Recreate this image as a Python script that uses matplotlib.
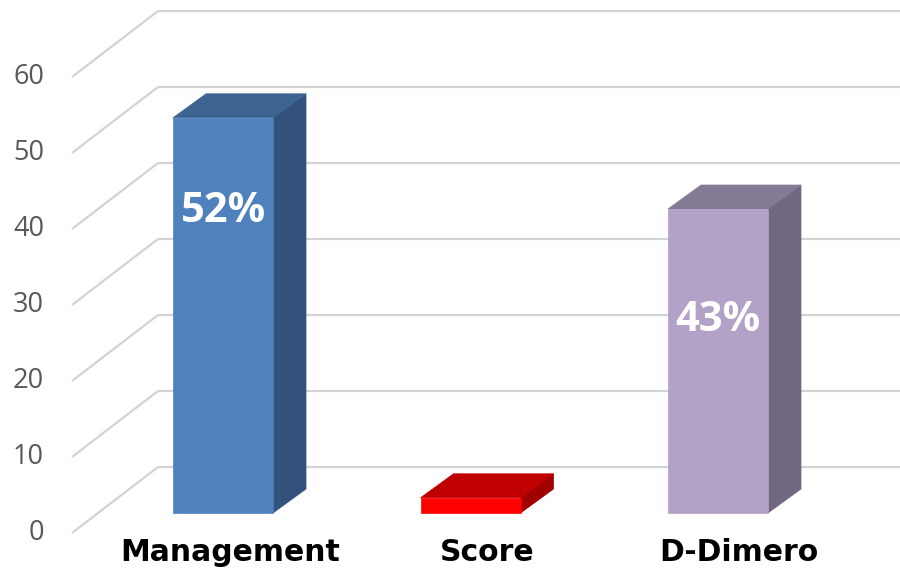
import matplotlib
matplotlib.use("Agg")
import matplotlib.pyplot as plt
from matplotlib.patches import Polygon

# ---------------- data ----------------
categories = ["Management", "Score", "D-Dimero"]
values = [52, 2, 40]
value_labels = ["52%", "", "43%"]
ticks = [0, 10, 20, 30, 40, 50, 60]

# ---------------- style / layout ----------------
front_colors = ["#4F81BD", "#FF0000", "#B3A2C7"]
top_colors = ["#3D6390", "#C00000", "#857A96"]
side_colors = ["#32527B", "#A00000", "#716782"]
label_y = [39.7, None, 25.3]          # value-label vertical positions (data units)
cat_label_dx_px = [7, 17, 21]         # category label horizontal shifts (pixels)

W, H, DPI = 900, 575, 100
PX_CAT = 247.5      # pixels per category step
PX_UNIT = 7.6       # pixels per value unit
X0_PX = 223         # pixel x of first bar's front-face centre
Y0_PX = 513         # pixel y (from top) of bar front-face base
BAR_W = 100 / PX_CAT
BAR_DX = 33 / PX_CAT          # bar depth (x)
BAR_DY = 24 / PX_UNIT         # bar depth (y)
# floor geometry relative to bar front plane
FRONT_X = (72 - X0_PX) / PX_CAT
FRONT_DY = -20 / PX_UNIT
BACK_X = (158 - X0_PX) / PX_CAT
BACK_DY = (Y0_PX - 467) / PX_UNIT

fig = plt.figure(figsize=(W / DPI, H / DPI), dpi=DPI)
ax = fig.add_axes([0, 0, 1, 1])
ax.set_xlim((0 - X0_PX) / PX_CAT, (W - X0_PX) / PX_CAT)
ax.set_ylim(-(H - Y0_PX) / PX_UNIT, Y0_PX / PX_UNIT)
ax.axis("off")

grid_c = "#D3D3D3"
xmax = ax.get_xlim()[1]
for t in ticks:
    ax.plot([FRONT_X, BACK_X], [t + FRONT_DY, t + BACK_DY], color=grid_c, lw=1.6,
            solid_capstyle="butt", zorder=1)
    ax.plot([BACK_X, xmax], [t + BACK_DY, t + BACK_DY], color=grid_c, lw=1.6,
            solid_capstyle="butt", zorder=1)
    ax.text((44 - X0_PX) / PX_CAT, t + FRONT_DY, str(t), ha="right", va="center",
            fontsize=19.5, color="#595959", family=["Open Sans", "DejaVu Sans"])

for i, (v, fc, tc, sc) in enumerate(zip(values, front_colors, top_colors, side_colors)):
    x0 = i - BAR_W / 2
    x1 = i + BAR_W / 2
    front = [(x0, 0), (x1, 0), (x1, v), (x0, v)]
    top = [(x0, v), (x1, v), (x1 + BAR_DX, v + BAR_DY), (x0 + BAR_DX, v + BAR_DY)]
    side = [(x1, 0), (x1 + BAR_DX, BAR_DY), (x1 + BAR_DX, v + BAR_DY), (x1, v)]
    ax.add_patch(Polygon(side, closed=True, facecolor=sc, edgecolor=sc, lw=0.5, zorder=2))
    ax.add_patch(Polygon(top, closed=True, facecolor=tc, edgecolor=tc, lw=0.5, zorder=3))
    ax.add_patch(Polygon(front, closed=True, facecolor=fc, edgecolor=fc, lw=0.5, zorder=4))
    if value_labels[i]:
        ax.text(i, label_y[i], value_labels[i], ha="center", va="center", color="white",
                fontsize=30, fontweight="bold", family=["Open Sans", "DejaVu Sans"], zorder=5)
    ax.text(i + cat_label_dx_px[i] / PX_CAT, -(561 - Y0_PX) / PX_UNIT, categories[i],
            ha="center", va="baseline", fontsize=21.5, fontweight="bold", color="black",
            family=["DejaVu Sans"], zorder=5)

fig.savefig("out.png", dpi=DPI)
